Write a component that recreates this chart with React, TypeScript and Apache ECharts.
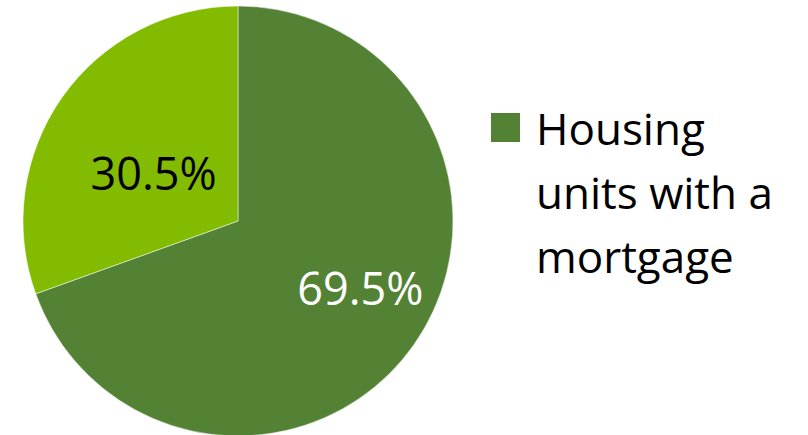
import React, { useEffect, useRef } from "react";
import * as echarts from "echarts";

const categories = ["Housing units with a mortgage", "Housing units without a mortgage"];
const values = [69.5, 30.5];
const colors = ["#548235", "#82BB00"];
const labelColors = ["#ffffff", "#000000"];
const legendLines = ["Housing", "units with a", "mortgage"];
const labelShift = [
  [32, 3],
  [6, 15],
];

export default function App() {
  const ref = useRef<HTMLDivElement>(null);
  useEffect(() => {
    if (!ref.current) return;
    const chart = echarts.init(ref.current, undefined, { renderer: "svg" });
    chart.setOption({
      animation: false,
      backgroundColor: "#ffffff",
      series: [
        {
          type: "pie",
          center: [238, 221],
          radius: 215,
          startAngle: 90,
          clockwise: true,
          avoidLabelOverlap: false,
          itemStyle: { borderColor: "#ffffff", borderWidth: 0.5 },
          label: {
            show: true,
            position: "inside",
            fontFamily: "Open Sans",
            fontSize: 45,
            formatter: (p: any) => p.value.toFixed(1) + "%",
          },
          labelLine: { show: false },
          labelLayout: (p: any) => ({ dx: labelShift[p.dataIndex][0], dy: labelShift[p.dataIndex][1] }),
          emphasis: { disabled: true },
          data: categories.map((name, i) => ({
            name,
            value: values[i],
            itemStyle: { color: colors[i] },
            label: { color: labelColors[i] },
          })),
        },
      ],
      graphic: [
        {
          type: "group",
          left: 491,
          top: 96,
          children: [
            { type: "rect", shape: { x: 0, y: 17, width: 29, height: 29 }, style: { fill: colors[0] } },
            {
              type: "text",
              x: 45,
              y: 0,
              style: {
                text: legendLines.join("\n"),
                fontFamily: "Open Sans",
                fontSize: 44,
                lineHeight: 64,
                fill: "#000000",
                verticalAlign: "top",
              },
            },
          ],
        },
      ],
    });
    return () => chart.dispose();
  }, []);
  return <div ref={ref} style={{ position: "fixed", left: 0, top: 0, width: 808, height: 435 }} />;
}
